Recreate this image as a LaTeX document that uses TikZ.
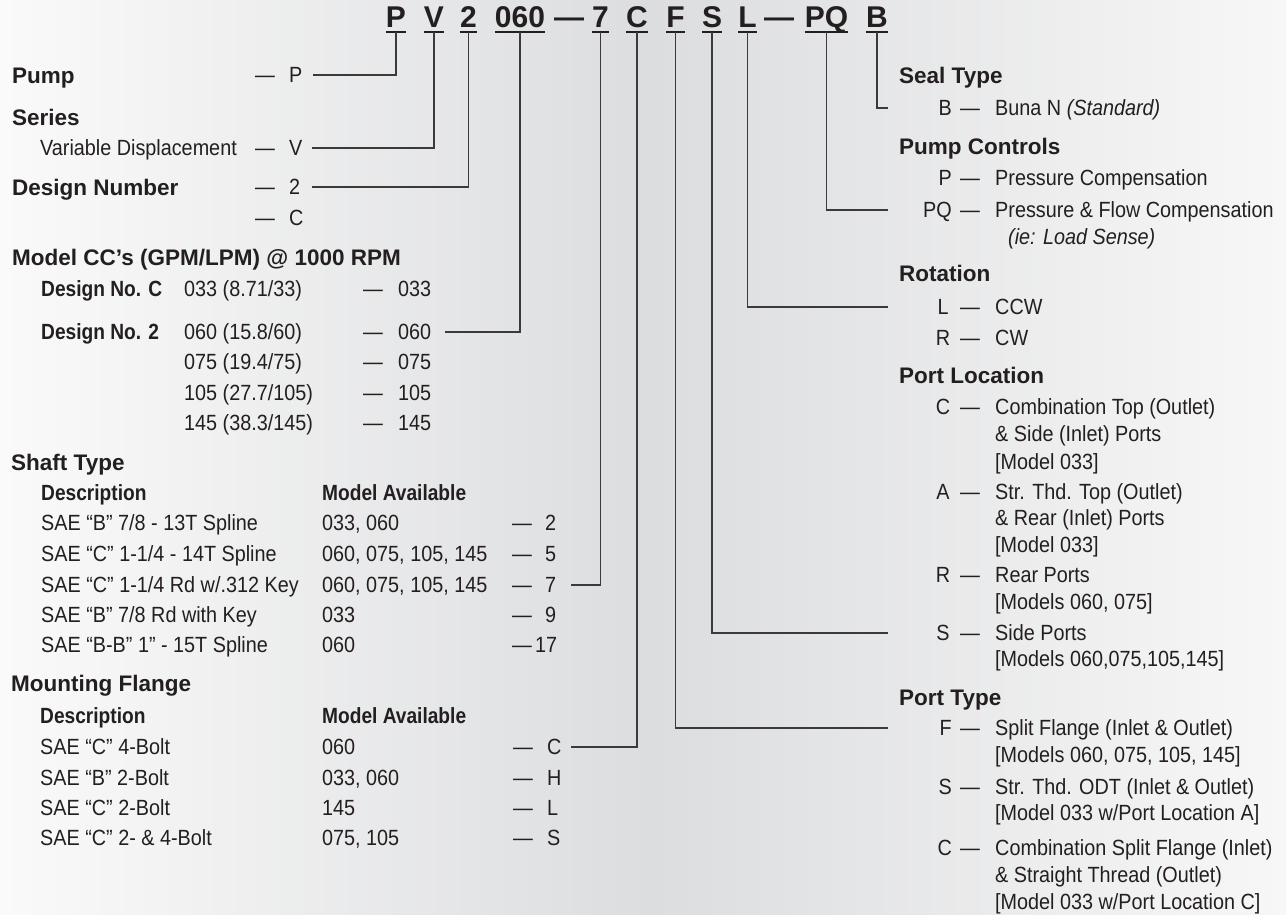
\documentclass[tikz,border=0pt]{standalone}
\usepackage{fontspec}
\setmainfont{Liberation Sans}
\newfontfamily\famReg[FakeStretch=0.9]{Liberation Sans}
\newfontfamily\famSub[FakeStretch=0.87]{Liberation Sans}
\newfontfamily\famHd{Liberation Sans}
\newcommand\fnR{\famReg\fontsize{22}{27}\selectfont}
\newcommand\fnI{\famReg\itshape\fontsize{22}{27}\selectfont}
\newcommand\fnS{\famSub\bfseries\fontsize{22}{27}\selectfont}
\newcommand\fnH{\famHd\bfseries\fontsize{22.5}{27}\selectfont}
\newcommand\fnC{\famHd\bfseries\fontsize{30}{36}\selectfont}
\definecolor{ink}{HTML}{231F20}
\definecolor{linec}{HTML}{3A3A3A}
\definecolor{bgL}{HTML}{FAFAFA}
\definecolor{bgM}{HTML}{DCDDDF}
\definecolor{bgR}{HTML}{F7F7F7}
\begin{document}
\begin{tikzpicture}[x=1pt,y=-1pt,
  txt/.style={anchor=west,inner sep=0pt,text height=15.8pt,text depth=0pt,font=\fnR,text=ink},
  itx/.style={txt,font=\fnI},
  sub/.style={txt,font=\fnS},
  hd/.style={anchor=west,inner sep=0pt,text height=16.1pt,text depth=0pt,font=\fnH,text=ink},
  code/.style={anchor=base,inner sep=0pt,font=\fnC,text=ink},
  ul/.style={draw=ink,line width=1.6pt},
  conn/.style={draw=linec,line width=1.4pt}]
\useasboundingbox (0,0) rectangle (1286,915);
\shade[left color=bgL,right color=bgM] (0,0) rectangle (650,915);
\shade[left color=bgM,right color=bgR] (650,0) rectangle (1286,915);

% ---- code line ----
\node[code] (cP) at (396,28) {P};
\node[code] (cV) at (434,28) {V};
\node[code] (c2) at (468.5,28) {2};
\node[code] (c060) at (520,28) {060};
\node[code] (cd1) at (569,28) {—};
\node[code] (c7) at (600.5,28) {7};
\node[code] (cC) at (637,28) {C};
\node[code] (cF) at (675.5,28) {F};
\node[code] (cS) at (712,28) {S};
\node[code] (cL) at (747.5,28) {L};
\node[code] (cd2) at (779,28) {—};
\node[code] (cPQ) at (826.5,28) {PQ};
\node[code] (cB) at (877,28) {B};
\foreach \n in {cP,cV,c2,c060,c7,cC,cF,cS,cL,cPQ,cB}
  \draw[ul] ([yshift=-4pt]\n.base west) -- ([yshift=-4pt]\n.base east);

% ---- left column ----
\node[hd] (hPump) at (12,75) {Pump};
\node[txt] (dP) at (255,75) {—};
\node[txt] (vP) at (289,75) {P};
\node[hd] (hSeries) at (12,117) {Series};
\node[txt] (tVar) at (40,148) {Variable Displacement};
\node[txt] (dV) at (255,148) {—};
\node[txt] (vV) at (289,148) {V};
\node[hd] (hDes) at (12,187) {Design Number};
\node[txt] (d2) at (255,187) {—};
\node[txt] (v2) at (289,187) {2};
\node[txt] (dC0) at (255,218) {—};
\node[txt] (vC0) at (289,218) {C};
\node[hd] (hModel) at (12,257) {Model CC’s (GPM/LPM) @ 1000 RPM};
\node[sub] (sDC) at (41,289) {Design No. C};
\node[txt] (m033) at (184,289) {033 (8.71/33)};
\node[txt] (d033) at (363,289) {—};
\node[txt] (v033) at (398,289) {033};
\node[sub] (sD2) at (41,332) {Design No. 2};
\node[txt] (m060) at (184,332) {060 (15.8/60)};
\node[txt] (d060) at (363,332) {—};
\node[txt] (v060) at (398,332) {060};
\node[txt] (m075) at (184,362) {075 (19.4/75)};
\node[txt] (d075) at (363,362) {—};
\node[txt] (v075) at (398,362) {075};
\node[txt] (m105) at (184,393) {105 (27.7/105)};
\node[txt] (d105) at (363,393) {—};
\node[txt] (v105) at (398,393) {105};
\node[txt] (m145) at (184,423) {145 (38.3/145)};
\node[txt] (d145) at (363,423) {—};
\node[txt] (v145) at (398,423) {145};

\node[hd] (hShaft) at (11,462) {Shaft Type};
\node[sub] (sDesc1) at (41,493) {Description};
\node[sub] (sMod1) at (322,493) {Model Available};
\node[txt] (s2t) at (41,523) {SAE “B” 7/8 - 13T Spline};
\node[txt] (s2m) at (322,523) {033, 060};
\node[txt] (s2d) at (512,523) {—};
\node[txt] (s2v) at (545,523) {2};
\node[txt] (s5t) at (41,554) {SAE “C” 1-1/4 - 14T Spline};
\node[txt] (s5m) at (322,554) {060, 075, 105, 145};
\node[txt] (s5d) at (512,554) {—};
\node[txt] (s5v) at (545,554) {5};
\node[txt] (s7t) at (41,585) {SAE “C” 1-1/4 Rd w/.312 Key};
\node[txt] (s7m) at (322,585) {060, 075, 105, 145};
\node[txt] (s7d) at (512,585) {—};
\node[txt] (s7v) at (545,585) {7};
\node[txt] (s9t) at (41,615) {SAE “B” 7/8 Rd with Key};
\node[txt] (s9m) at (322,615) {033};
\node[txt] (s9d) at (512,615) {—};
\node[txt] (s9v) at (545,615) {9};
\node[txt] (s17t) at (41,645) {SAE “B-B” 1” - 15T Spline};
\node[txt] (s17m) at (322,645) {060};
\node[txt] (s17d) at (512,645) {—};
\node[txt] (s17v) at (535,645) {17};

\node[hd] (hMount) at (11,683) {Mounting Flange};
\node[sub] (sDesc2) at (40,716) {Description};
\node[sub] (sMod2) at (322,716) {Model Available};
\node[txt] (fCt) at (40,747) {SAE “C” 4-Bolt};
\node[txt] (fCm) at (322,747) {060};
\node[txt] (fCd) at (513,747) {—};
\node[txt] (fCv) at (547,747) {C};
\node[txt] (fHt) at (40,778) {SAE “B” 2-Bolt};
\node[txt] (fHm) at (322,778) {033, 060};
\node[txt] (fHd) at (513,778) {—};
\node[txt] (fHv) at (547,778) {H};
\node[txt] (fLt) at (40,808) {SAE “C” 2-Bolt};
\node[txt] (fLm) at (322,808) {145};
\node[txt] (fLd) at (513,808) {—};
\node[txt] (fLv) at (547,808) {L};
\node[txt] (fSt) at (40,838) {SAE “C” 2- \& 4-Bolt};
\node[txt] (fSm) at (322,838) {075, 105};
\node[txt] (fSd) at (513,838) {—};
\node[txt] (fSv) at (547,838) {S};

% ---- right column ----
\node[hd] (hSeal) at (899,75) {Seal Type};
\node[txt,anchor=east] (rB) at (952,108) {B};
\node[txt] (dB) at (960,108) {—};
\node[txt] (tB) at (995,108) {Buna N \fnI(Standard)};
\node[hd] (hCtrl) at (899,146) {Pump Controls};
\node[txt,anchor=east] (rP) at (952,178) {P};
\node[txt] (dPc) at (960,178) {—};
\node[txt] (tP) at (995,178) {Pressure Compensation};
\node[txt,anchor=east] (rPQ) at (952,210) {PQ};
\node[txt] (dPQ) at (960,210) {—};
\node[txt] (tPQ) at (995,210) {Pressure \& Flow Compensation};
\node[itx] (tPQ2) at (1008,237) {(ie: Load Sense)};
\node[hd] (hRot) at (899,273) {Rotation};
\node[txt,anchor=center] (rL) at (943,307) {L};
\node[txt] (dL) at (960,307) {—};
\node[txt] (tL) at (995,307) {CCW};
\node[txt,anchor=center] (rR) at (943,338) {R};
\node[txt] (dR) at (960,338) {—};
\node[txt] (tR) at (995,338) {CW};
\node[hd] (hLoc) at (899,375) {Port Location};
\node[txt,anchor=center] (lC) at (943,407) {C};
\node[txt] (dlC) at (960,407) {—};
\node[txt] (tlC1) at (995,407) {Combination Top (Outlet)};
\node[txt] (tlC2) at (995,434) {\& Side (Inlet) Ports};
\node[txt] (tlC3) at (995,462) {[Model 033]};
\node[txt,anchor=center] (lA) at (943,492) {A};
\node[txt] (dlA) at (960,492) {—};
\node[txt] (tlA1) at (995,492) {Str. Thd. Top (Outlet)};
\node[txt] (tlA2) at (995,518) {\& Rear (Inlet) Ports};
\node[txt] (tlA3) at (995,545) {[Model 033]};
\node[txt,anchor=center] (lR) at (943,575) {R};
\node[txt] (dlR) at (960,575) {—};
\node[txt] (tlR1) at (995,575) {Rear Ports};
\node[txt] (tlR2) at (995,602) {[Models 060, 075]};
\node[txt,anchor=center] (lS) at (943,633) {S};
\node[txt] (dlS) at (960,633) {—};
\node[txt] (tlS1) at (995,633) {Side Ports};
\node[txt] (tlS2) at (995,659) {[Models 060,075,105,145]};
\node[hd] (hType) at (899,697) {Port Type};
\node[txt,anchor=east] (pF) at (952,728) {F};
\node[txt] (dpF) at (960,728) {—};
\node[txt] (tpF1) at (995,728) {Split Flange (Inlet \& Outlet)};
\node[txt] (tpF2) at (995,755) {[Models 060, 075, 105, 145]};
\node[txt,anchor=east] (pS) at (952,787) {S};
\node[txt] (dpS) at (960,787) {—};
\node[txt] (tpS1) at (995,787) {Str. Thd. ODT (Inlet \& Outlet)};
\node[txt] (tpS2) at (995,813) {[Model 033 w/Port Location A]};
\node[txt,anchor=east] (pC) at (952,848) {C};
\node[txt] (dpC) at (960,848) {—};
\node[txt] (tpC1) at (995,848) {Combination Split Flange (Inlet)};
\node[txt] (tpC2) at (995,875) {\& Straight Thread (Outlet)};
\node[txt] (tpC3) at (995,902) {[Model 033 w/Port Location C]};

% ---- connectors ----
\draw[conn] ([yshift=-4pt]cP.base) |- ([xshift=58pt]dP.west);
\draw[conn] ([yshift=-4pt]cV.base) |- ([xshift=57pt]dV.west);
\draw[conn] ([yshift=-4pt]c2.base) |- ([xshift=57pt]d2.west);
\draw[conn] ([yshift=-4pt]c060.base) |- ([xshift=82pt]d060.west);
\draw[conn] ([yshift=-4pt]c7.base) |- ([xshift=59pt]s7d.west);
\draw[conn] ([yshift=-4pt]cC.base) |- ([xshift=58pt]fCd.west);
\draw[conn] ([yshift=-4pt]cF.base) |- ([xshift=-72pt]dpF.west);
\draw[conn] ([yshift=-4pt]cS.base) |- ([xshift=-72pt]dlS.west);
\draw[conn] ([yshift=-4pt]cL.base) |- ([xshift=-72pt]dL.west);
\draw[conn] ([yshift=-4pt]cPQ.base) |- ([xshift=-72pt]dPQ.west);
\draw[conn] ([yshift=-4pt]cB.base) |- ([xshift=-72pt]dB.west);
\end{tikzpicture}
\end{document}
